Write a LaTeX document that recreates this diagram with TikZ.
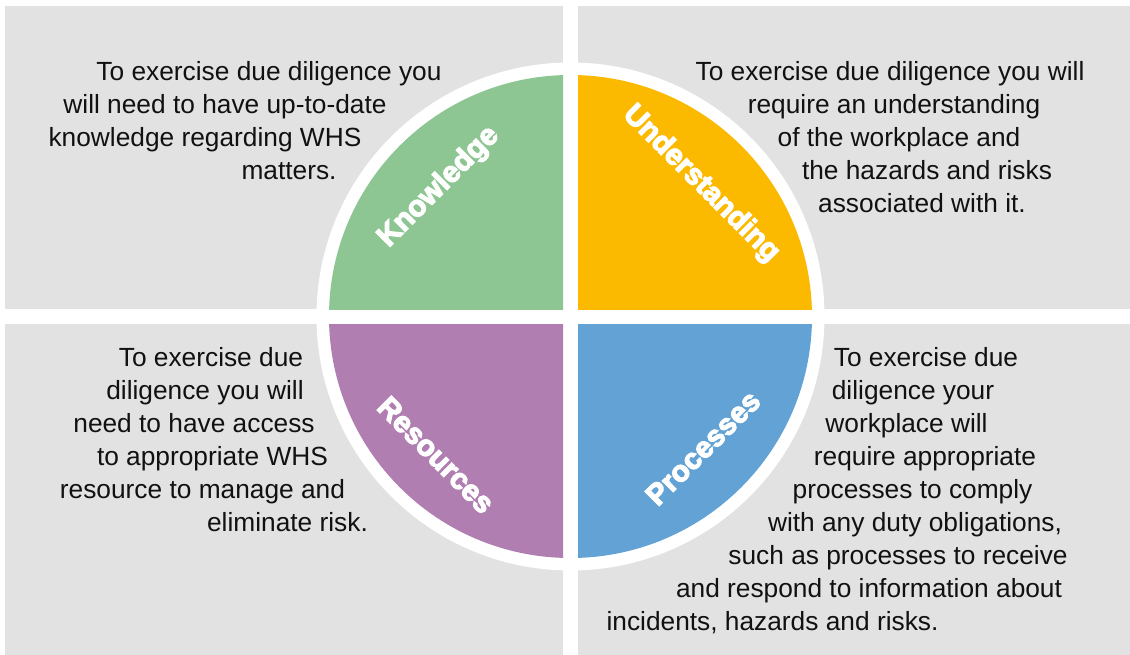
\documentclass[tikz,border=0pt]{standalone}
\usepackage{fontspec}
\setmainfont{Liberation Sans}
\newfontfamily\heavyfont{Liberation Sans}[UprightFont=*-Bold, UprightFeatures={FakeBold=4}]
\definecolor{panel}{HTML}{E2E2E2}
\definecolor{kgreen}{HTML}{8DC692}
\definecolor{uyellow}{HTML}{FBBA00}
\definecolor{rpurple}{HTML}{B07EB0}
\definecolor{pblue}{HTML}{62A2D5}
\definecolor{ink}{HTML}{111111}
\begin{document}
\begin{tikzpicture}[x=1pt,y=-1pt,
  body/.style={anchor=base, inner sep=0pt, text=ink,
    font=\fontsize{26.3}{33}\selectfont},
  quadlabel/.style={inner sep=0pt, text=white,
    font=\heavyfont\fontsize{29.5}{36}\selectfont}]
\useasboundingbox (0,0) rectangle (1130,655);
\fill[white] (0,0) rectangle (1130,655);

% grey panels
\fill[panel] (5,6) rectangle (563,309);
\fill[panel] (578,6) rectangle (1130,309);
\fill[panel] (5,324) rectangle (563,655);
\fill[panel] (578,324) rectangle (1130,655);

% white disc behind the four quarters
\coordinate (c) at (570.5,316.5);
\fill[white] (c) circle [radius=254pt];

% coloured quarters
\begin{scope}
  \clip (5,6) rectangle (563,309);
  \fill[kgreen] (c) circle [radius=241.5pt];
\end{scope}
\begin{scope}
  \clip (578,6) rectangle (1130,309);
  \fill[uyellow] (c) circle [radius=241.5pt];
\end{scope}
\begin{scope}
  \clip (5,324) rectangle (563,655);
  \fill[rpurple] (c) circle [radius=241.5pt];
\end{scope}
\begin{scope}
  \clip (578,324) rectangle (1130,655);
  \fill[pblue] (c) circle [radius=241.5pt];
\end{scope}

% quarter titles
\node[quadlabel, rotate=45]  (know) at (439,187) {Knowledge};
\node[quadlabel, rotate=-45] (under) at (701,184) {Understanding};
\node[quadlabel, rotate=-45] (res) at (436,455) {Resources};
\node[quadlabel, rotate=45]  (proc) at (703,448) {Processes};

% top-left text
\node[body] (tl1) at (269,81) {To exercise due diligence you};
\node[body] (tl2) at (225,114) {will need to have up-to-date};
\node[body] (tl3) at (205,147) {knowledge regarding WHS};
\node[body] (tl4) at (289,180) {matters.};

% top-right text
\node[body] (tr1) at (890,81) {To exercise due diligence you will};
\node[body] (tr2) at (894,114) {require an understanding};
\node[body] (tr3) at (899,147) {of the workplace and};
\node[body] (tr4) at (927,180) {the hazards and risks};
\node[body] (tr5) at (922,213) {associated with it.};

% bottom-left text
\node[body] (bl1) at (211,366) {To exercise due};
\node[body] (bl2) at (205,399) {diligence you will};
\node[body] (bl3) at (194,432) {need to have access};
\node[body] (bl4) at (212.5,465) {to appropriate WHS};
\node[body] (bl5) at (202.5,498) {resource to manage and};
\node[body] (bl6) at (287.5,531) {eliminate risk.};

% bottom-right text
\node[body] (br1) at (926,366) {To exercise due};
\node[body] (br2) at (913,399) {diligence your};
\node[body] (br3) at (906.5,432) {workplace will};
\node[body] (br4) at (925,465) {require appropriate};
\node[body] (br5) at (912.5,498) {processes to comply};
\node[body] (br6) at (915,531) {with any duty obligations,};
\node[body] (br7) at (898,564) {such as processes to receive};
\node[body] (br8) at (869,597) {and respond to information about};
\node[body] (br9) at (772.5,630) {incidents, hazards and risks.};
\end{tikzpicture}
\end{document}
